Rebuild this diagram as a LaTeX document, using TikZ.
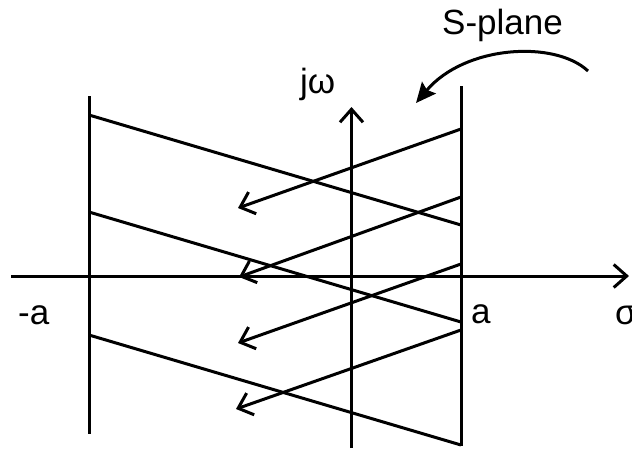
\documentclass[tikz,border=0pt]{standalone}
\usepackage{fontspec}
\setmainfont{Liberation Sans}
\usetikzlibrary{arrows.meta}
\begin{document}
\begin{tikzpicture}[x=1pt,y=-1pt,
  ln/.style={line width=3pt},
  barb/.style={ln,-{Straight Barb[length=13pt,width=23pt]}},
  lbl/.style={font=\fontsize{35}{42}\selectfont, inner sep=0pt, anchor=base west}]
\useasboundingbox (0,0) rectangle (632,448);
% verticals
\coordinate (Lt) at (89,96);   \coordinate (Lb) at (89,434);
\coordinate (Rt) at (461,86);  \coordinate (Rb) at (461,446);
% axes
\coordinate (Hs) at (11,276);  \coordinate (He) at (629,276);
\coordinate (Vs) at (351.5,448); \coordinate (Ve) at (351.5,107);
% diagonals
\coordinate (D1a) at (89,115);  \coordinate (D1b) at (461,225);
\coordinate (D2a) at (89,212);  \coordinate (D2b) at (461,322);
\coordinate (D3a) at (89,335);  \coordinate (D3b) at (461,445);
% arrows
\coordinate (A1s) at (461,129); \coordinate (A1e) at (238,208);
\coordinate (A2s) at (461,197); \coordinate (A2e) at (239,277);
\coordinate (A3s) at (461,264); \coordinate (A3e) at (238,343);
\coordinate (A4s) at (461,330); \coordinate (A4e) at (236,409);
% curved arrow
\coordinate (Cs) at (588,71); \coordinate (Ce) at (416,103);

\draw[ln] (Lt) -- (Lb);
\draw[ln] (Rt) -- (Rb);
\draw[barb] (Hs) -- (He);
\draw[barb] (Vs) -- (Ve);
\draw[ln] (D1a) -- (D1b);
\draw[ln] (D2a) -- (D2b);
\draw[ln] (D3a) -- (D3b);
\draw[barb] (A1s) -- (A1e);
\draw[barb] (A2s) -- (A2e);
\draw[barb] (A3s) -- (A3e);
\draw[barb] (A4s) -- (A4e);
\draw[ln,-{Stealth[length=20pt,width=18pt,inset=3pt]}] (Cs) .. controls (555,40) and (465,45) .. (Ce);

\node[lbl] (splane) at (442,34) {S-plane};
\node[lbl] (jw) at (300,93) {jω};
\node[lbl] (ma) at (18,324) {-a};
\node[lbl] (pa) at (471,323) {a};
\node[lbl] (sig) at (615,324) {σ};
\end{tikzpicture}
\end{document}
